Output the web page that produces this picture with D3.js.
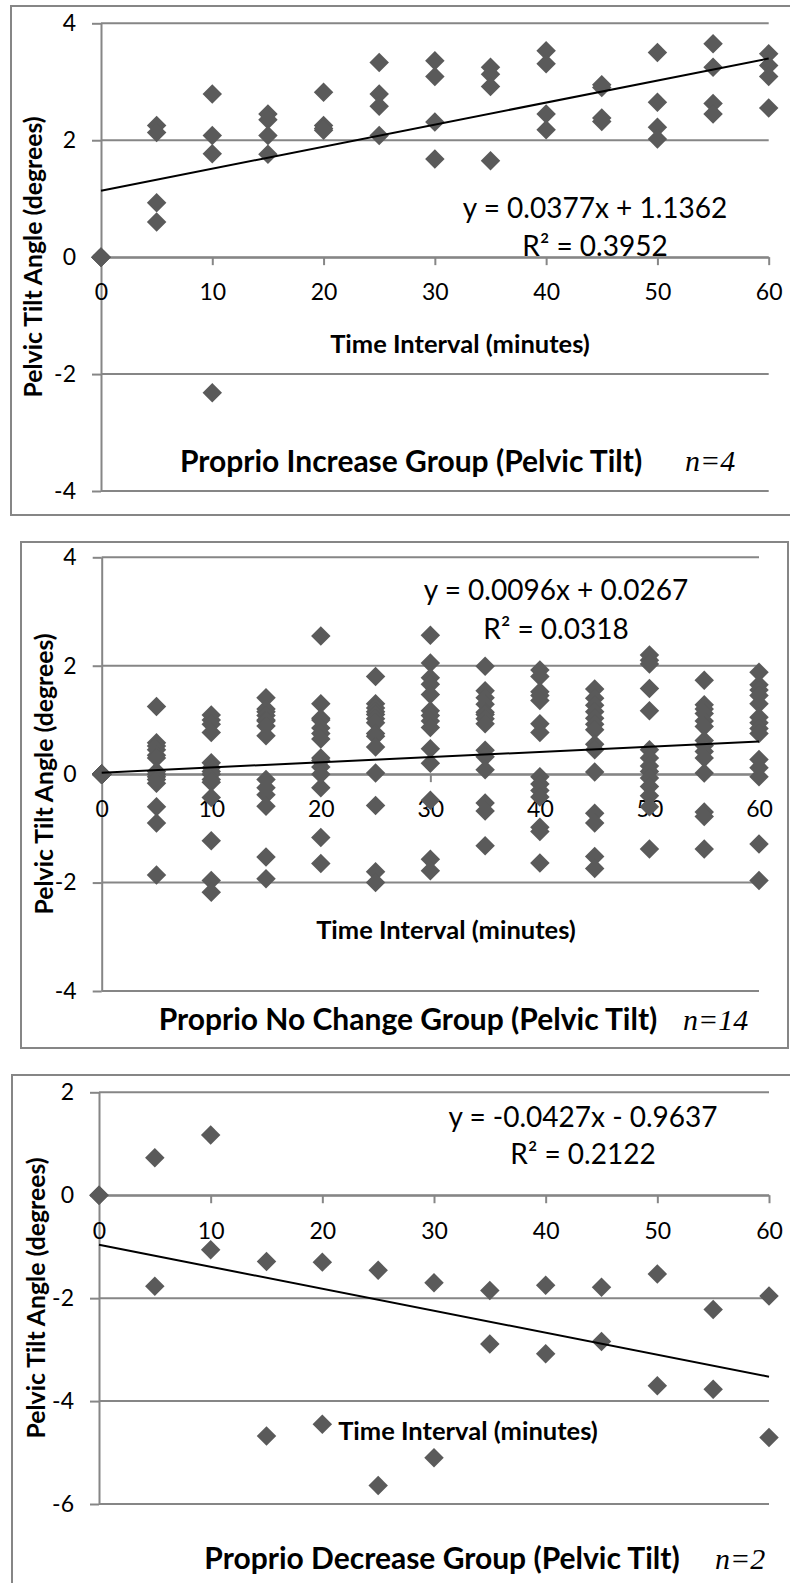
<!DOCTYPE html>
<html>
<head>
<meta charset="utf-8">
<title>Pelvic Tilt</title>
<script src="https://d3js.org/d3.v7.min.js"></script>
<style>
  body { margin: 0; background: #fff; }
  svg { display: block; }
  .tick text { font-family: Lato, "Open Sans", sans-serif; font-size: 23px; fill: #000; }
  .tick line, .domain { stroke: #868686; stroke-width: 2px; }
  .grid { stroke: #868686; stroke-width: 2px; }
  .frame { fill: #fff; stroke: #868686; stroke-width: 2px; }
  .eq { font-family: Lato, sans-serif; font-size: 28px; }
  .axtitle { font-family: Lato, sans-serif; font-size: 25.5px; font-weight: bold; }
  .ylab { font-family: Lato, sans-serif; font-size: 24.8px; font-weight: bold; }
  .title { font-family: Lato, sans-serif; font-size: 30px; font-weight: bold; }
  .nlab { font-family: "Liberation Serif", "DejaVu Serif", serif; font-style: italic; font-size: 30px; }
</style>
</head>
<body>
<script>
// time intervals (minutes)
const timePoints = [0, 5, 10, 15, 20, 25, 30, 35, 40, 45, 50, 55, 60];
const xTicks = [0, 10, 20, 30, 40, 50, 60];

// Proprio Increase group, n=4 (one list per time point)
const incTilt = [
  [0, 0, 0, 0],
  [2.25, 2.13, 0.93, 0.60],
  [2.79, 2.08, 1.77, -2.32],
  [2.45, 2.35, 2.08, 1.76],
  [2.82, 2.25, 2.20, 2.17],
  [3.33, 2.79, 2.58, 2.08],
  [3.36, 3.09, 2.31, 1.68],
  [3.25, 3.13, 2.92, 1.65],
  [3.53, 3.31, 2.45, 2.18],
  [2.95, 2.90, 2.38, 2.32],
  [3.50, 2.65, 2.22, 2.02],
  [3.65, 3.25, 2.63, 2.45],
  [3.48, 3.28, 3.09, 2.55]
];

// Proprio No Change group, n=14
const ncTilt = [
  [0, 0, 0, 0, 0, 0, 0, 0, 0, 0, 0, 0, 0, 0],
  [1.25, 0.58, 0.52, 0.45, 0.35, 0.30, 0.05, 0.00, -0.05, -0.10, -0.17, -0.60, -0.90, -1.86],
  [1.09, 1.00, 0.92, 0.77, 0.21, 0.12, 0.05, 0.00, -0.10, -0.15, -0.43, -1.23, -1.96, -2.18],
  [1.41, 1.20, 1.15, 1.08, 1.00, 0.98, 0.89, 0.71, -0.10, -0.25, -0.38, -0.59, -1.53, -1.93],
  [2.55, 1.30, 1.03, 1.00, 0.85, 0.75, 0.65, 0.30, 0.25, 0.13, -0.25, -1.17, -1.65, 0.00],
  [1.80, 1.30, 1.22, 1.15, 1.10, 1.02, 0.95, 0.75, 0.70, 0.50, 0.02, -0.58, -1.80, -2.00],
  [2.56, 2.05, 1.78, 1.66, 1.47, 1.17, 1.08, 0.98, 0.86, 0.47, 0.20, -0.48, -1.57, -1.78],
  [1.99, 1.54, 1.41, 1.29, 1.14, 1.10, 1.02, 0.93, 0.44, 0.32, 0.08, -0.53, -0.68, -1.32],
  [1.92, 1.80, 1.52, 1.45, 1.36, 0.93, 0.77, -0.05, -0.18, -0.30, -0.42, -0.98, -1.06, -1.64],
  [1.57, 1.40, 1.27, 1.15, 1.03, 0.92, 0.82, 0.55, 0.45, 0.04, -0.72, -0.90, -1.52, -1.74],
  [2.20, 2.10, 2.03, 1.58, 1.17, 0.45, 0.30, 0.15, 0.05, -0.07, -0.23, -0.40, -0.60, -1.38],
  [1.73, 1.28, 1.20, 1.12, 0.98, 0.88, 0.62, 0.53, 0.42, 0.30, 0.02, -0.70, -0.78, -1.38],
  [1.88, 1.65, 1.55, 1.45, 1.30, 1.05, 0.95, 0.84, 0.75, 0.27, 0.12, -0.05, -1.29, -1.96]
];

// Proprio Decrease group, n=2
const decTilt = [
  [0, 0],
  [0.73, -1.77],
  [1.17, -1.06],
  [-1.29, -4.68],
  [-1.30, -4.45],
  [-1.46, -5.64],
  [-1.70, -5.10],
  [-1.85, -2.89],
  [-1.75, -3.08],
  [-1.79, -2.84],
  [-1.53, -3.70],
  [-2.22, -3.77],
  [-1.96, -4.71]
];

// linear trend (slope, intercept) and R²
const incTrend = [0.0377, 1.1362], incR2 = "0.3952";
const ncTrend = [0.0096, 0.0267], ncR2 = "0.0318";
const decTrend = [-0.0427, -0.9637], decR2 = "0.2122";

const svg = d3.select("body").append("svg")
    .attr("width", 790)
    .attr("height", 1583);

const panels = [
  {vals: incTilt, trend: incTrend, r2: incR2, n: "n=4",
   title: "Proprio Increase Group (Pelvic Tilt)",
   yDomain: [-4, 4], yTicks: [-4, -2, 0, 2, 4],
   frame: [11, 6, 800, 509], plot: {l: 101, r: 768.7, t: 23.3, b: 491},
   eq: [595, 218, 256], xt: [460, 353], tt: [411, 472], nl: [685, 471], yl: [42, 257]},
  {vals: ncTilt, trend: ncTrend, r2: ncR2, n: "n=14",
   title: "Proprio No Change Group (Pelvic Tilt)",
   yDomain: [-4, 4], yTicks: [-4, -2, 0, 2, 4],
   frame: [21, 542, 767, 506], plot: {l: 101.7, r: 759, t: 557.3, b: 991},
   eq: [556, 600, 639], xt: [446, 939], tt: [408, 1030], nl: [683, 1030], yl: [53, 774]},
  {vals: decTilt, trend: decTrend, r2: decR2, n: "n=2",
   title: "Proprio Decrease Group (Pelvic Tilt)",
   yDomain: [-6, 2], yTicks: [-6, -4, -2, 0, 2],
   frame: [12, 1075, 800, 520], plot: {l: 99, r: 769, t: 1092.3, b: 1504},
   eq: [583, 1127, 1164], xt: [468, 1440], tt: [442, 1569], nl: [715, 1569], yl: [45, 1298]}
];

panels.forEach(drawPanel);

function fmt(v) {
  return v < 0 ? "- " + Math.abs(v) : "+ " + v;
}

function drawPanel(p) {
  let g = svg.append("g");

  g.append("rect").attr("class", "frame")
    .attr("x", p.frame[0]).attr("y", p.frame[1])
    .attr("width", p.frame[2]).attr("height", p.frame[3]);

  let x = d3.scaleLinear().domain([0, 60]).range([p.plot.l, p.plot.r]);
  let y = d3.scaleLinear().domain(p.yDomain).range([p.plot.b, p.plot.t]);

  // horizontal gridlines
  g.selectAll(".grid")
    .data(p.yTicks)
    .enter().append("line")
      .attr("class", "grid")
      .attr("x1", p.plot.l).attr("x2", p.plot.r)
      .attr("y1", d => y(d)).attr("y2", d => y(d));

  // plain hyphen for negatives, like the original
  let yAxis = d3.axisLeft(y).tickValues(p.yTicks).tickSizeInner(9).tickSizeOuter(0).tickPadding(16)
    .tickFormat(d => String(d));
  g.append("g")
    .attr("transform", "translate(" + p.plot.l + ",0)")
    .call(yAxis);

  let xAxis = d3.axisBottom(x).tickValues(xTicks).tickSizeInner(8).tickSizeOuter(0).tickPadding(19);
  g.append("g")
    .attr("transform", "translate(0," + y(0) + ")")
    .call(xAxis);

  g.selectAll(".domain").attr("fill", "none");
  g.selectAll(".tick text").attr("font-size", null).attr("font-family", null);

  // points
  let pts = [];
  timePoints.forEach((t, i) => p.vals[i].forEach(v => pts.push([t, v])));
  g.selectAll(".pt")
    .data(pts)
    .enter().append("path")
      .attr("class", "pt")
      .attr("d", d3.symbol().type(d3.symbolSquare).size(190))
      .attr("transform", d => "translate(" + x(d[0]) + "," + y(d[1]) + ") rotate(45)")
      .attr("fill", "#5a5a5a");

  // trend line
  let line = d3.line().x(d => x(d)).y(d => y(p.trend[0] * d + p.trend[1]));
  g.append("path")
    .attr("d", line([0, 60]))
    .attr("fill", "none")
    .attr("stroke", "#000")
    .attr("stroke-width", 2);

  g.append("text").attr("class", "eq")
    .attr("x", p.eq[0]).attr("y", p.eq[1]).attr("text-anchor", "middle")
    .text("y = " + p.trend[0] + "x " + fmt(p.trend[1]));
  g.append("text").attr("class", "eq")
    .attr("x", p.eq[0]).attr("y", p.eq[2]).attr("text-anchor", "middle")
    .text("R\u00b2 = " + p.r2);

  g.append("text").attr("class", "axtitle")
    .attr("x", p.xt[0]).attr("y", p.xt[1]).attr("text-anchor", "middle")
    .text("Time Interval (minutes)");

  g.append("text").attr("class", "ylab")
    .attr("transform", "translate(" + p.yl[0] + "," + p.yl[1] + ") rotate(-90)")
    .attr("text-anchor", "middle")
    .text("Pelvic Tilt Angle (degrees)");

  g.append("text").attr("class", "title")
    .attr("x", p.tt[0]).attr("y", p.tt[1]).attr("text-anchor", "middle")
    .text(p.title);

  g.append("text").attr("class", "nlab")
    .attr("x", p.nl[0]).attr("y", p.nl[1])
    .text(p.n);
}
</script>
</body>
</html>
